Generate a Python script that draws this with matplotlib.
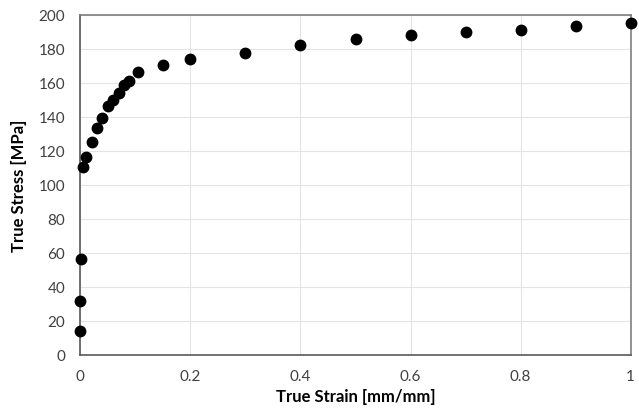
import matplotlib
matplotlib.use('Agg')
import matplotlib.pyplot as plt

strain = [0.0, 0.0, 0.001, 0.005, 0.011, 0.022, 0.031, 0.04, 0.051, 0.06, 0.071,
          0.08, 0.089, 0.105, 0.15, 0.2, 0.3, 0.4, 0.5, 0.6, 0.7, 0.8, 0.9, 1.0]
stress = [13.8, 31.4, 56.3, 110.3, 116.5, 125.3, 133.2, 139.0, 146.3, 150.0, 154.0,
          158.8, 160.8, 166.2, 170.6, 173.6, 177.6, 182.3, 185.8, 187.8, 189.6, 191.2, 193.0, 195.0]

xticks = [0, 0.2, 0.4, 0.6, 0.8, 1]
xticklabels = ['0', '0.2', '0.4', '0.6', '0.8', '1']
yticks = list(range(0, 201, 20))

plt.rcParams['font.family'] = ['Lato', 'DejaVu Sans']

fig = plt.figure(figsize=(6.39, 4.10), dpi=100)
ax = fig.add_axes([0.1257, 0.1324, 0.8613, 0.8296])

ax.plot(strain, stress, 'o', color='black', markersize=7.5, clip_on=False, zorder=3)

ax.set_xlim(0, 1)
ax.set_ylim(0, 200)
ax.set_xticks(xticks)
ax.set_xticklabels(xticklabels)
ax.set_yticks(yticks)
ax.tick_params(length=0, labelsize=11, colors='#404040', pad=10)
ax.tick_params(axis='y', pad=11)

ax.grid(True, color='#e4e4e4', linewidth=0.8)
ax.set_axisbelow(True)

ax.spines['left'].set_color('#595959')
ax.spines['bottom'].set_color('#595959')
ax.spines['top'].set_color('#7f7f7f')
ax.spines['right'].set_color('#7f7f7f')
for s in ax.spines.values():
    s.set_linewidth(1.2)

ax.set_xlabel('True Strain [mm/mm]', fontsize=12, fontweight='bold', labelpad=4)
ax.set_ylabel('True Stress [MPa]', fontsize=12, fontweight='bold', labelpad=8)

fig.savefig('out.png', dpi=100)
